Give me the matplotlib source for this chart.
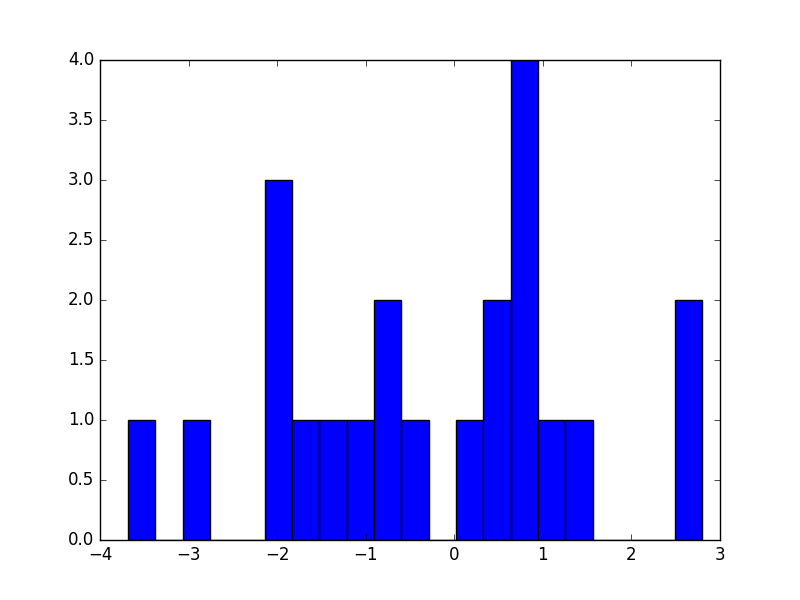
import matplotlib
matplotlib.use("Agg")
import matplotlib.pyplot as plt
import numpy as np

plt.style.use("classic")

# histogram: 21 equal bins
x_min = -3.684
x_max = 2.795
counts = [1, 0, 1, 0, 0, 3, 1, 1, 1, 2, 1, 0, 1, 2, 4, 1, 1, 0, 0, 0, 2]

edges = np.linspace(x_min, x_max, len(counts) + 1)
centers = (edges[:-1] + edges[1:]) / 2

fig, ax = plt.subplots(figsize=(8, 6), dpi=100)
ax.hist(centers, bins=edges, weights=counts)
ax.set_xlim(-4, 3)
ax.set_ylim(0, 4)

fig.savefig("out.png")
